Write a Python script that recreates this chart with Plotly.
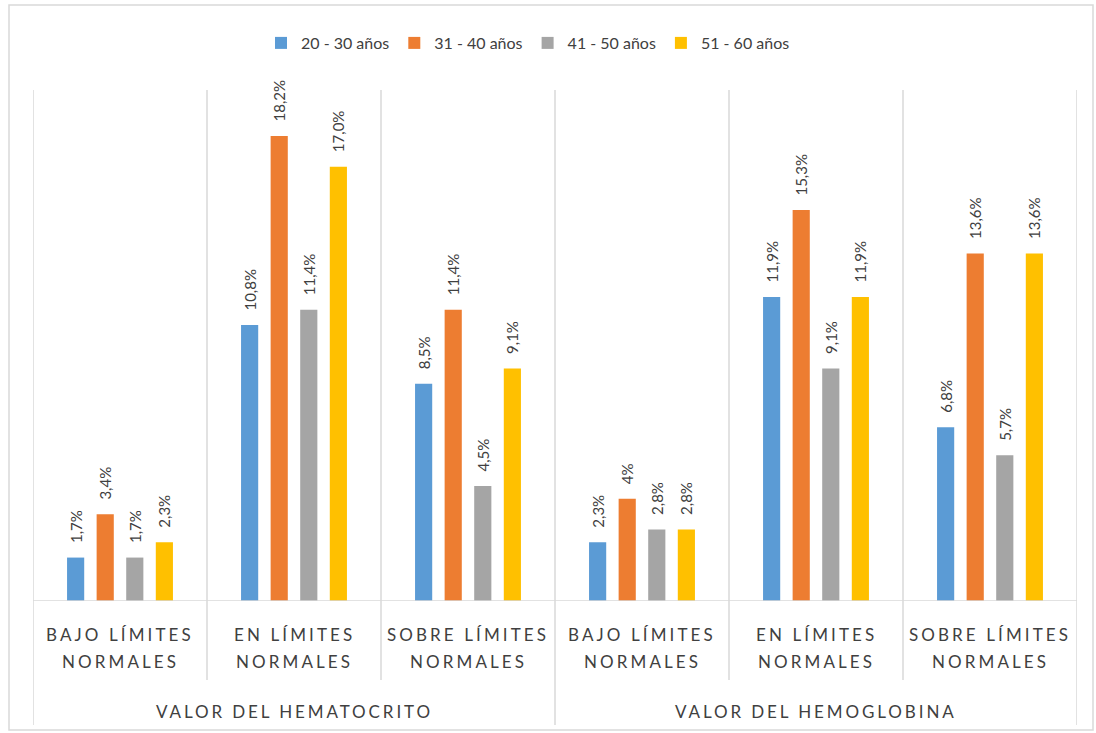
import plotly.graph_objects as go

categories = ["BAJO LÍMITES<br>NORMALES", "EN LÍMITES<br>NORMALES", "SOBRE LÍMITES<br>NORMALES",
              "BAJO LÍMITES<br>NORMALES", "EN LÍMITES<br>NORMALES", "SOBRE LÍMITES<br>NORMALES"]
groups = ["VALOR DEL HEMATOCRITO", "VALOR DEL HEMOGLOBINA"]
series_names = ["20 - 30 años", "31 - 40 años", "41 - 50 años", "51 - 60 años"]

v_20_30 = [1.7, 10.8, 8.5, 2.3, 11.9, 6.8]
v_31_40 = [3.4, 18.2, 11.4, 4.0, 15.3, 13.6]
v_41_50 = [1.7, 11.4, 4.5, 2.8, 9.1, 5.7]
v_51_60 = [2.3, 17.0, 9.1, 2.8, 11.9, 13.6]

t_20_30 = ["1,7%", "10,8%", "8,5%", "2,3%", "11,9%", "6,8%"]
t_31_40 = ["3,4%", "18,2%", "11,4%", "4%", "15,3%", "13,6%"]
t_41_50 = ["1,7%", "11,4%", "4,5%", "2,8%", "9,1%", "5,7%"]
t_51_60 = ["2,3%", "17,0%", "9,1%", "2,8%", "11,9%", "13,6%"]

colors = ["#5B9BD5", "#ED7D31", "#A5A5A5", "#FFC000"]

values = [v_20_30, v_31_40, v_41_50, v_51_60]
texts = [t_20_30, t_31_40, t_41_50, t_51_60]
xpos = list(range(len(categories)))

FONT = "Lato"
TXT = "#404040"


def spaced(s, px_):
    return f'<span style="letter-spacing:{px_}px">{s}</span>'


fig = go.Figure()
for name, vals, txt, col in zip(series_names, values, texts, colors):
    fig.add_trace(go.Bar(
        x=xpos, y=vals, name=name, marker_color=col, marker_line_width=0,
        text=["\u00a0\u00a0\u00a0" + t for t in txt],
        textposition="outside", textangle=-90,
        textfont=dict(family=FONT, size=15, color=TXT),
        cliponaxis=False, constraintext="none",
    ))

W, H = 1096, 733
L, R, T, B = 33, 1077, 90, 601
pw, ph = R - L, B - T


def py(pix):
    return (B - pix) / ph


def px(pix):
    return (pix - L) / pw


shapes = []
shapes.append(dict(type="rect", xref="paper", yref="paper",
                   x0=px(9), x1=px(1093), y0=py(730), y1=py(5),
                   line=dict(color="#D9D9D9", width=1.5), layer="below"))
shapes.append(dict(type="line", xref="paper", yref="y", x0=0, x1=1, y0=0, y1=0,
                   line=dict(color="#D9D9D9", width=1.5)))
for i in range(len(categories) + 1):
    xv = i - 0.5
    long_ = i in (0, 3, 6)
    shapes.append(dict(type="line", xref="x", yref="paper", x0=xv, x1=xv,
                       y0=py(725 if long_ else 680), y1=1,
                       line=dict(color="#D9D9D9", width=1.5), layer="below"))

annotations = []
for i, c in enumerate(categories):
    for li, line in enumerate(c.split("<br>")):
        annotations.append(dict(x=i, y=py(634 + 27 * li), xref="x", yref="paper",
                                text=spaced(line, 3.1), showarrow=False,
                                yanchor="middle", xanchor="center",
                                font=dict(family=FONT, size=17, color=TXT)))
for gi, g in enumerate(groups):
    annotations.append(dict(x=1 + 3 * gi, y=py(711), xref="x", yref="paper",
                            text=spaced(g, 2.9), showarrow=False,
                            yanchor="middle", xanchor="center",
                            font=dict(family=FONT, size=17, color=TXT)))

fig.update_layout(
    width=W, height=H,
    margin=dict(l=L, r=W - R, t=T, b=H - B, pad=0),
    paper_bgcolor="white", plot_bgcolor="white",
    barmode="group", bargap=0.32, bargroupgap=0.42,
    showlegend=True,
    legend=dict(orientation="h", x=px(528), xanchor="center", y=py(26), yanchor="top",
                font=dict(family=FONT, size=16, color=TXT), itemwidth=30,
                traceorder="normal"),
    xaxis=dict(range=[-0.5, 5.5], showticklabels=False, showgrid=False, zeroline=False,
               showline=False, ticks=""),
    yaxis=dict(range=[0, 20], showticklabels=False, showgrid=False, zeroline=False,
               showline=False, ticks=""),
    shapes=shapes, annotations=annotations,
    font=dict(family=FONT, color=TXT),
)

fig.write_html("out.html")
